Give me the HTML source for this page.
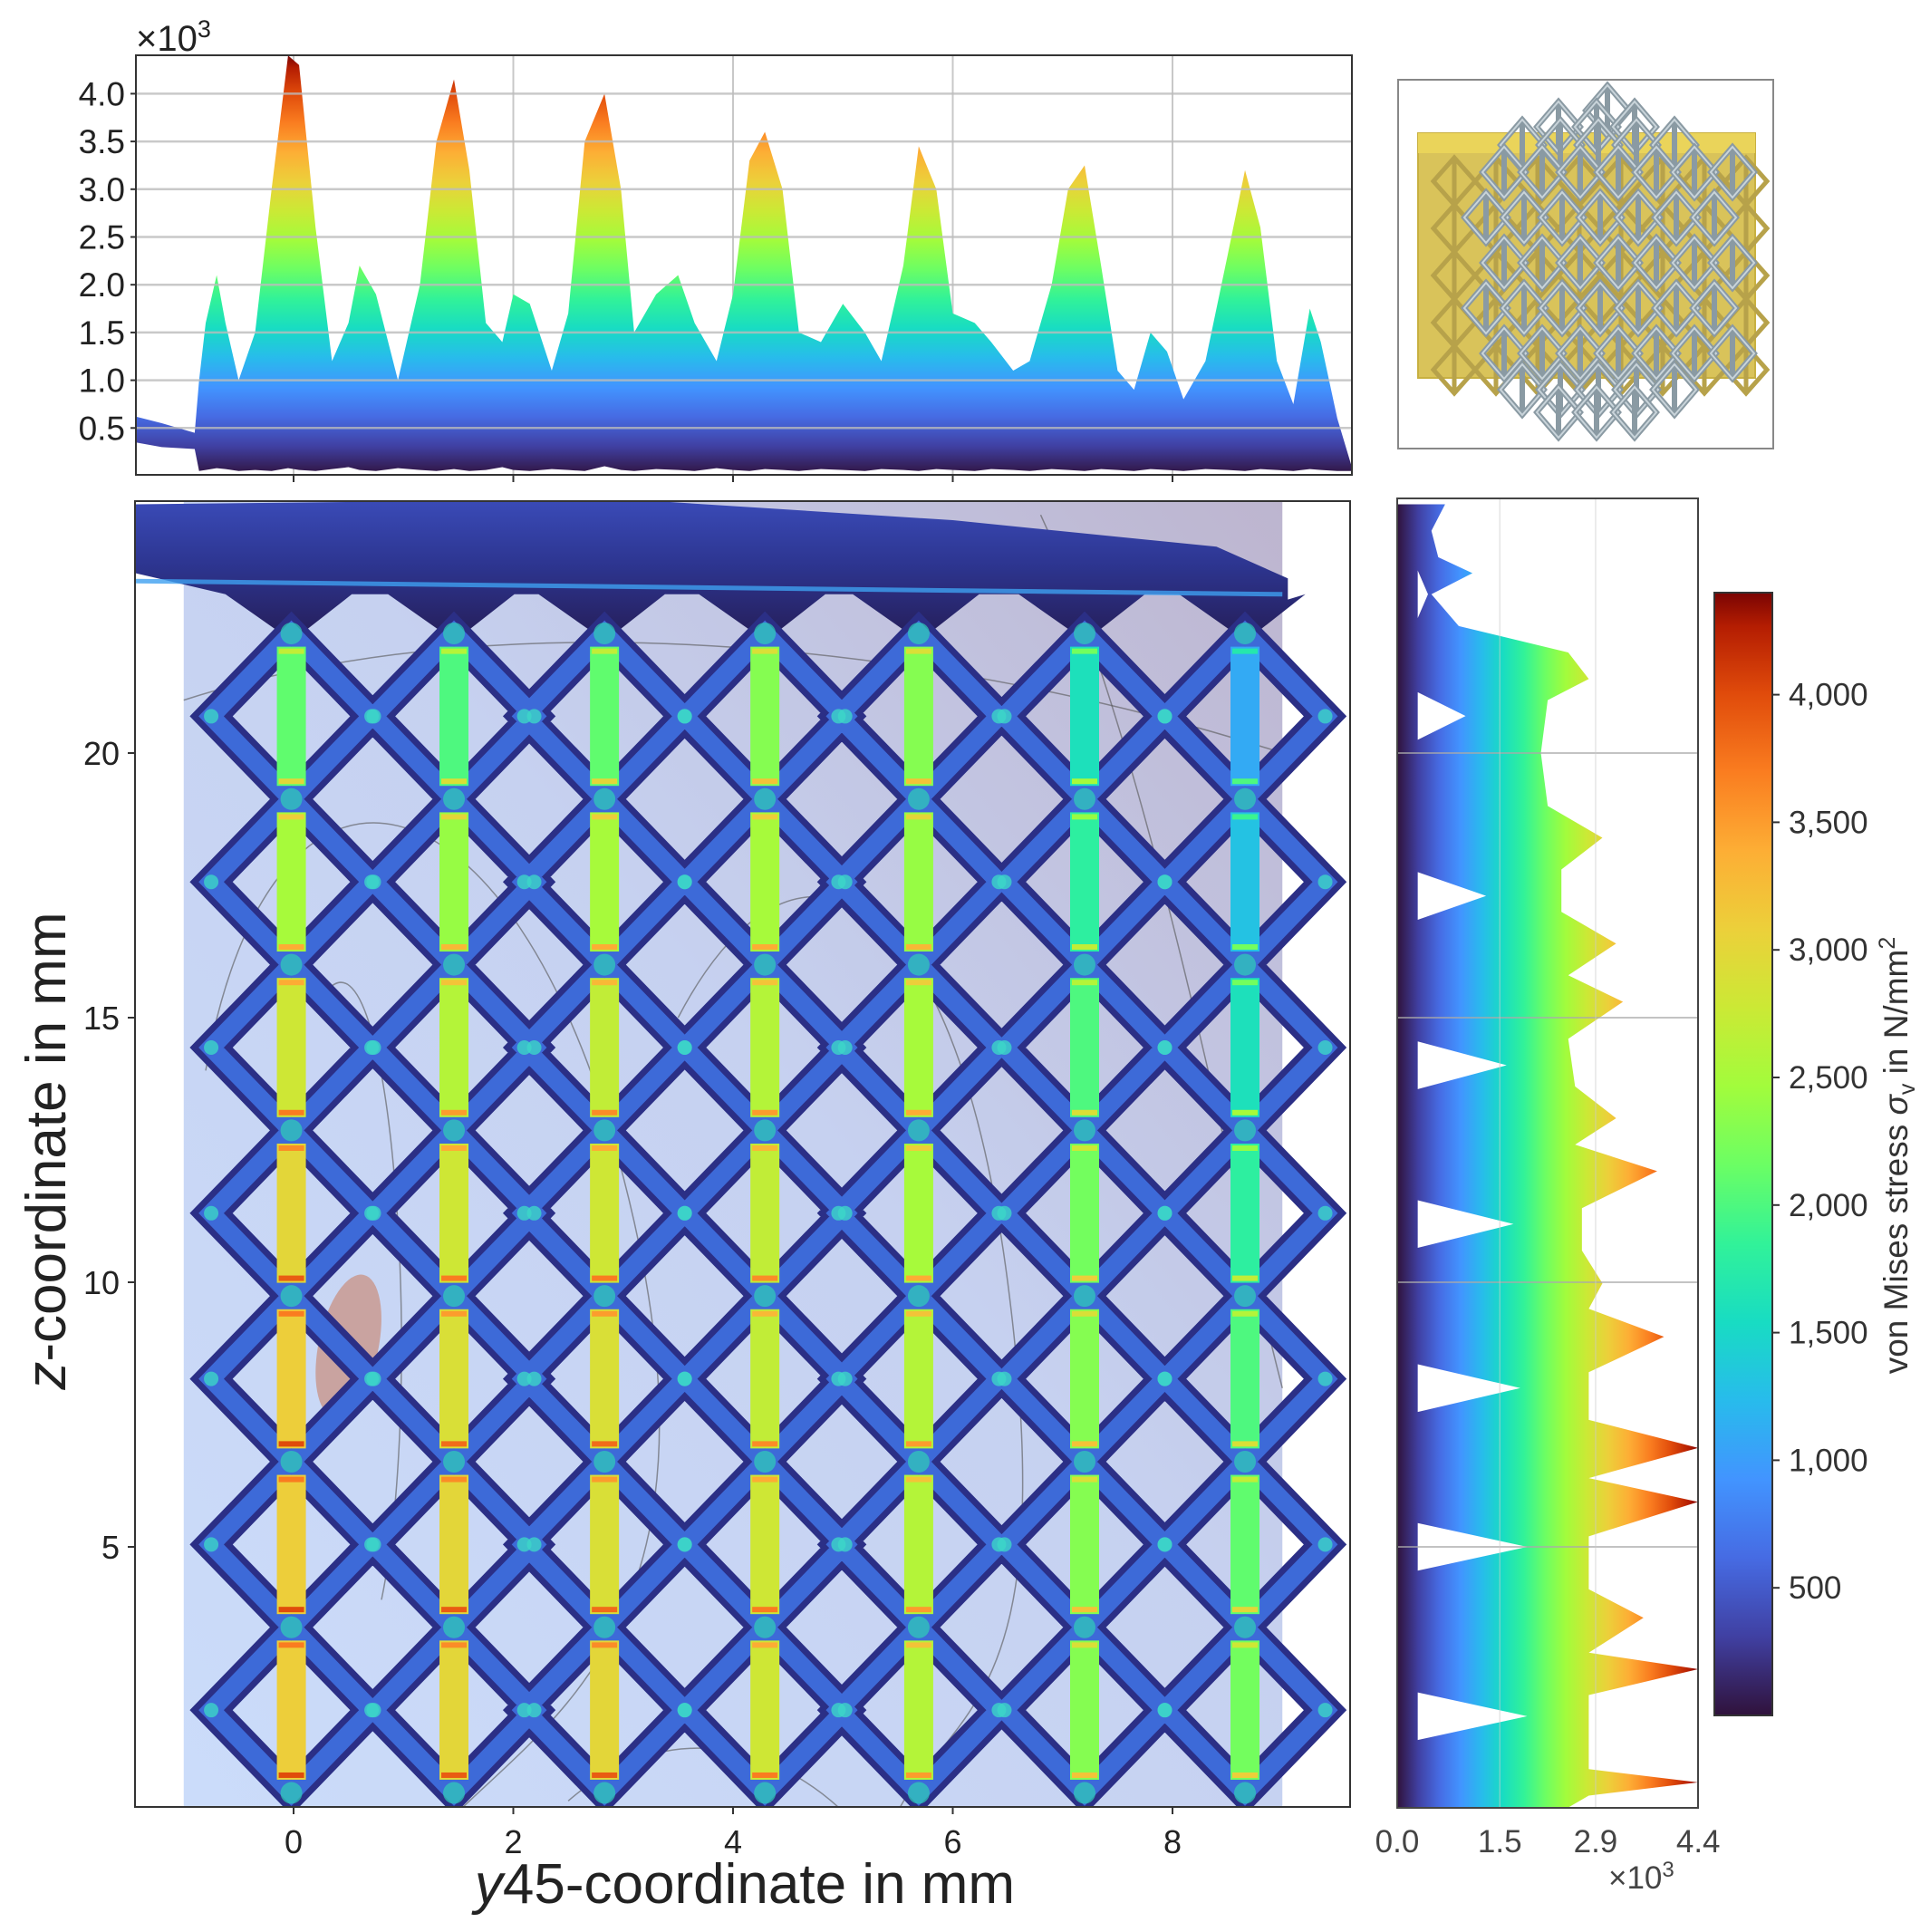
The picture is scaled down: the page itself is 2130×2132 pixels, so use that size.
<!DOCTYPE html>
<html><head><meta charset="utf-8"><style>
html,body{margin:0;padding:0;background:#fff}
svg{display:block;font-family:"Liberation Sans",sans-serif}
</style></head><body>
<svg id="c" width="2130" height="2132" viewBox="0 0 2130 2132" xmlns="http://www.w3.org/2000/svg">
<defs>
<linearGradient id="bgGrad" x1="0" y1="1" x2="1" y2="0">
<stop offset="0" stop-color="#cbdcfa"/><stop offset="0.55" stop-color="#c6d1f0"/><stop offset="1" stop-color="#bdb5cf"/>
</linearGradient>
<linearGradient id="capGrad" x1="0" y1="0" x2="0" y2="1">
<stop offset="0" stop-color="#3a4bb8"/><stop offset="0.5" stop-color="#2d3590"/><stop offset="1" stop-color="#26205e"/>
</linearGradient>
<clipPath id="mainClip"><rect x="149" y="553" width="1341" height="1441"/></clipPath>
<clipPath id="topClip"><rect x="150" y="61" width="1342" height="463"/></clipPath>
<clipPath id="rightClip"><rect x="1542" y="550" width="332" height="1445"/></clipPath>
</defs>
</svg>
<script>
// ---------- data ----------
const topX = [-1.44,-1.2,-0.9,-0.86,-0.8,-0.7,-0.62,-0.5,-0.35,-0.2,-0.05,0.05,0.2,0.35,0.5,0.6,0.75,0.95,1.15,1.3,1.46,1.6,1.75,1.9,2.0,2.15,2.35,2.5,2.65,2.83,2.98,3.1,3.3,3.5,3.65,3.85,4.0,4.15,4.29,4.45,4.6,4.8,5.0,5.2,5.35,5.55,5.69,5.85,6.0,6.2,6.35,6.55,6.7,6.9,7.05,7.2,7.35,7.5,7.65,7.8,7.95,8.1,8.3,8.5,8.66,8.8,8.95,9.1,9.25,9.35,9.5,9.63];
const topV = [0.62,0.55,0.45,1.0,1.6,2.1,1.6,1.0,1.5,3.0,4.4,4.3,2.6,1.2,1.6,2.2,1.9,1.0,2.0,3.5,4.15,3.2,1.6,1.4,1.9,1.8,1.1,1.7,3.5,4.0,3.0,1.5,1.9,2.1,1.6,1.2,1.9,3.3,3.6,3.0,1.5,1.4,1.8,1.5,1.2,2.2,3.45,3.0,1.7,1.6,1.4,1.1,1.2,2.0,3.0,3.25,2.2,1.1,0.9,1.5,1.3,0.8,1.2,2.3,3.2,2.6,1.2,0.75,1.75,1.4,0.6,0.1];
const topBase = [0.35,0.3,0.28,0.05,0.06,0.08,0.07,0.05,0.06,0.05,0.08,0.06,0.05,0.07,0.09,0.06,0.05,0.08,0.06,0.05,0.07,0.05,0.06,0.09,0.06,0.05,0.07,0.06,0.05,0.1,0.06,0.05,0.07,0.06,0.05,0.08,0.06,0.05,0.07,0.06,0.05,0.07,0.06,0.05,0.07,0.06,0.05,0.07,0.06,0.05,0.07,0.06,0.05,0.07,0.06,0.05,0.07,0.06,0.05,0.07,0.06,0.05,0.07,0.06,0.05,0.07,0.06,0.05,0.07,0.06,0.05,0.05];
const topYTicks = [0.5,1.0,1.5,2.0,2.5,3.0,3.5,4.0];
const xTicks = [0,2,4,6,8];
const zTicks = [5,10,15,20];
const barX = [-0.02,1.46,2.83,4.29,5.69,7.2,8.66];
const barStress = [
 [3.1,3.1,3.1,3.0,2.8,2.5,2.1],
 [3.0,3.0,2.9,2.8,2.6,2.4,2.0],
 [3.0,2.9,2.9,2.8,2.7,2.5,2.1],
 [2.8,2.8,2.7,2.7,2.6,2.5,2.3],
 [2.6,2.6,2.6,2.5,2.5,2.4,2.3],
 [2.3,2.3,2.3,2.2,2.0,1.8,1.6],
 [2.2,2.1,2.0,1.8,1.6,1.3,1.1]];
const nodeZ = [0.35,3.48,6.61,9.74,12.87,16.0,19.13,22.26];
const rightZ = [0.0,0.3,0.55,0.8,1.4,2.2,2.69,3.0,3.66,4.2,5.2,5.85,6.3,6.87,7.4,8.3,8.97,9.5,9.98,10.6,11.4,12.1,12.6,13.1,13.7,14.6,15.3,15.8,16.4,17.0,17.8,18.4,19.0,20.0,21.0,21.4,21.9,22.4,23.0,23.4,23.7,24.2,24.7];
const rightS = [2.4,2.8,4.4,2.8,2.8,2.8,4.4,2.8,3.6,2.8,2.8,4.4,2.8,4.4,2.8,2.8,3.9,2.8,3.0,2.7,2.7,3.8,2.6,3.2,2.6,2.5,3.3,2.5,3.2,2.4,2.4,3.0,2.2,2.1,2.2,2.8,2.5,0.9,0.5,1.1,0.6,0.5,0.7];
const notchZ = [1.8,5.0,8.0,11.1,14.1,17.3,20.7,23.0];
const notchS = [1.9,1.9,1.8,1.7,1.6,1.3,1.0,0.45];
const rightTicks = [0.0,1.5,2.9,4.4];
const cbTicks = [500,1000,1500,2000,2500,3000,3500,4000];
const cbLabels = ["500","1,000","1,500","2,000","2,500","3,000","3,500","4,000"];

// ---------- helpers ----------
const NS="http://www.w3.org/2000/svg";
const svg=document.getElementById('c');
function mk(tag,attrs,parent){const e=document.createElementNS(NS,tag);for(const k in attrs)e.setAttribute(k,attrs[k]);(parent||svg).appendChild(e);return e;}
const turboStops=[[0,"#30123b"],[0.07,"#4040a2"],[0.14,"#466be3"],[0.21,"#4294ff"],[0.28,"#28bbec"],[0.35,"#18dcc3"],[0.42,"#31f299"],[0.49,"#6bfe64"],[0.56,"#a2fc3c"],[0.63,"#cbe935"],[0.70,"#ecd03a"],[0.77,"#fdae35"],[0.84,"#fa7d20"],[0.91,"#e04b0b"],[0.97,"#b41d02"],[1,"#7a0403"]];
function hex(h){return [parseInt(h.slice(1,3),16),parseInt(h.slice(3,5),16),parseInt(h.slice(5,7),16)];}
function turbo(t){t=Math.max(0,Math.min(1,t));for(let i=1;i<turboStops.length;i++){if(t<=turboStops[i][0]){const a=turboStops[i-1],b=turboStops[i];const f=(t-a[0])/(b[0]-a[0]);const ca=hex(a[1]),cb=hex(b[1]);return `rgb(${ca.map((v,j)=>Math.round(v+(cb[j]-v)*f)).join(',')})`;}}return "#7a0403";}
const defs=svg.querySelector('defs');
function grad(id,x1,y1,x2,y2){const g=mk('linearGradient',{id:id,gradientUnits:'userSpaceOnUse',x1:x1,y1:y1,x2:x2,y2:y2},defs);turboStops.forEach(s=>mk('stop',{offset:s[0],'stop-color':s[1]},g));}

// axes
const X=mm=>324+mm*121.25;
const Z=z=>1999-z*58.4;
const Yt=v=>525-v*105.4;
const Xr=s=>1542+s*75.5;
const Yc=v=>1893-v*0.2816;
grad('tg',0,Yt(0),0,Yt(4.4));
grad('rg',Xr(0),0,Xr(4.4),0);
grad('cg',0,Yc(0),0,Yc(4400));

// ---------- top plot ----------
const topG=mk('g',{'clip-path':'url(#topClip)'});


xTicks.forEach(t=>{const l=mk('line',{x1:X(t),x2:X(t),y1:61,y2:524,stroke:'#c8c8c8','stroke-width':2},topG);
});
let pts=topX.map((x,i)=>`${X(x)},${Yt(topV[i])}`);
for(let i=topX.length-1;i>=0;i--)pts.push(`${X(topX[i])},${Yt(topBase[i])}`);
const tp=mk('polygon',{points:pts.join(' '),fill:'url(#tg)'},topG);

topYTicks.forEach(v=>{const l=mk('line',{x1:150,x2:1492,y1:Yt(v),y2:Yt(v),stroke:'#bbbbbb','stroke-width':2.5,'stroke-opacity':0.8},topG);
});
const tf=mk('rect',{x:150,y:61,width:1342,height:463,fill:'none',stroke:'#333','stroke-width':2});

topYTicks.forEach(v=>{const t=mk('text',{x:138,y:Yt(v)+13,'text-anchor':'end','font-size':37,fill:'#222'});t.textContent=v.toFixed(1);

mk('line',{x1:144,x2:150,y1:Yt(v),y2:Yt(v),stroke:'#333','stroke-width':2});});
xTicks.forEach(t=>mk('line',{x1:X(t),x2:X(t),y1:524,y2:532,stroke:'#333','stroke-width':2}));
const tm=mk('text',{x:150,y:56,'font-size':40,fill:'#222'});tm.innerHTML='×10<tspan dy="-15" font-size="27">3</tspan>';


// ---------- inset ----------
const ins=mk('g',{});

mk('rect',{x:1543,y:88,width:414,height:407,fill:'#fff',stroke:'#888','stroke-width':2},ins);
mk('rect',{x:1565,y:147,width:372,height:270,fill:'#d9c35a',stroke:'#c8b040','stroke-width':2},ins);
mk('rect',{x:1565,y:147,width:372,height:22,fill:'#ead45a'},ins);
for(let r=0;r<5;r++)for(let c=0;c<8;c++){const cx=1605+c*46,cy=200+r*52;
mk('path',{d:`M${cx},${cy-26}L${cx+23},${cy}L${cx},${cy+26}L${cx-23},${cy}Z M${cx},${cy-26}V${cy+26}`,fill:'none',stroke:'#b7a24a','stroke-width':5},ins);}
const rows=[[1774,112,1],[1720,130,3],[1680,150,5],[1640,180,7],[1640,230,7],[1640,280,7],[1640,330,7],[1640,380,7],[1680,420,5],[1720,445,3]];
rows.forEach(([x0,y0,n],ri)=>{for(let c=0;c<n;c++){const cx=x0+c*42+ (ri>2&&ri<8?(ri%2)*20:0),cy=y0+10;
mk('path',{d:`M${cx},${cy-28}L${cx+24},${cy}L${cx},${cy+28}L${cx-24},${cy}Z M${cx},${cy-28}V${cy+28}`,fill:'none',stroke:'#8a9aa3','stroke-width':6},ins);
mk('path',{d:`M${cx},${cy-28}L${cx+24},${cy}L${cx},${cy+28}L${cx-24},${cy}Z`,fill:'none',stroke:'#c9d4da','stroke-width':2},ins);}});

// ---------- main plot ----------
const mainG=mk('g',{'clip-path':'url(#mainClip)'});

const bg=mk('rect',{x:X(-1.0),y:553,width:X(9.0)-X(-1.0),height:1441,fill:'url(#bgGrad)'},mainG);

[[`M${X(-0.8)},${Z(14)} C${X(-0.2)},${Z(21)} ${X(2)},${Z(20)} ${X(3)},${Z(12)} S${X(2.5)},${Z(2)} ${X(1.5)},${Z(0)}`],
 [`M${X(0.3)},${Z(15.5)} C${X(0.9)},${Z(17)} ${X(1.2)},${Z(8)} ${X(0.8)},${Z(4)}`],
 [`M${X(3.5)},${Z(15)} C${X(4.5)},${Z(19)} ${X(6)},${Z(18)} ${X(6.5)},${Z(10)} S${X(6)},${Z(2)} ${X(5.5)},${Z(0)}`],
 [`M${X(6.8)},${Z(24.5)} C${X(7.8)},${Z(20)} ${X(8.5)},${Z(12)} ${X(9.0)},${Z(8)}`],
 [`M${X(-1)},${Z(21)} C${X(2)},${Z(23)} ${X(6)},${Z(22)} ${X(9)},${Z(20)}`],
 [`M${X(2.5)},${Z(0.2)} C${X(3.5)},${Z(2)} ${X(4.5)},${Z(1)} ${X(5)},${Z(0)}`]].forEach(p=>{
 const c=mk('path',{d:p[0],fill:'none',stroke:'#555','stroke-width':1.5,'stroke-opacity':0.6},mainG);
 });
const el=mk('ellipse',{cx:X(0.5),cy:Z(8.8),rx:33,ry:80,fill:'#c9a3a0',transform:`rotate(12 ${X(0.5)} ${Z(8.8)})`},mainG);

// top cap
let cap=[`${X(-1.44)},${Z(24.7)}`,`${X(3)},${Z(24.8)}`,`${X(6)},${Z(24.4)}`,`${X(8.4)},${Z(23.9)}`,`${X(9.05)},${Z(23.3)}`,`${X(9.05)},${Z(22.9)}`];
for(let i=barX.length-1;i>=0;i--){cap.push(`${X(barX[i]+0.55)},${Z(23.0)}`);cap.push(`${X(barX[i]+0.12)},${Z(22.3)}`);cap.push(`${X(barX[i]-0.12)},${Z(22.3)}`);cap.push(`${X(barX[i]-0.6)},${Z(23.0)}`);}
cap.push(`${X(-1.44)},${Z(23.4)}`);
const cp=mk('polygon',{points:cap.join(' '),fill:'url(#capGrad)'},mainG);

mk('line',{x1:X(-1.44),x2:X(9.0),y1:Z(23.25),y2:Z(23.0),stroke:'#3fa0f0','stroke-width':5,'stroke-opacity':0.8},mainG);
// struts
const hw=0.73,hz=1.565;
const strutPaths=[];
barX.forEach((bx,i)=>{for(let k=0;k<nodeZ.length-1;k++){const z0=nodeZ[k],zm=z0+hz,z1=nodeZ[k+1];
 strutPaths.push(`M${X(bx)},${Z(z0)}L${X(bx-hw)},${Z(zm)}L${X(bx)},${Z(z1)}L${X(bx+hw)},${Z(zm)}Z`);}});
const sd=strutPaths.join(' ');
const s1=mk('path',{d:sd,fill:'none',stroke:'#2b2f86','stroke-width':34,'stroke-linejoin':'miter'},mainG);

mk('path',{d:sd,fill:'none',stroke:'#3d6ad8','stroke-width':20,'stroke-linejoin':'miter'},mainG);
barX.forEach(bx=>{for(let k=0;k<nodeZ.length-1;k++){const zm=nodeZ[k]+hz;[bx-hw,bx+hw].forEach(x=>mk('circle',{cx:X(x),cy:Z(zm),r:8,fill:'#3cd6c8','fill-opacity':0.8},mainG));}
 nodeZ.forEach(z=>mk('circle',{cx:X(bx),cy:Z(z),r:12,fill:'#2fd0b8','fill-opacity':0.7},mainG));});
barX.forEach((bx,i)=>{barStress[i].forEach((s,k)=>{const za=nodeZ[k]+0.25,zb=nodeZ[k+1]-0.25;
 const r=mk('rect',{x:X(bx)-16,y:Z(zb),width:32,height:Z(za)-Z(zb),fill:turbo(s/4.4)},mainG);
 
 mk('rect',{x:X(bx)-14,y:Z(za)-8,width:28,height:6,fill:turbo((s+0.9)/4.4)},mainG);
 mk('rect',{x:X(bx)-14,y:Z(zb)+2,width:28,height:6,fill:turbo((s+0.6)/4.4)},mainG);});});
const mf=mk('rect',{x:149,y:553,width:1341,height:1441,fill:'none',stroke:'#333','stroke-width':2});

xTicks.forEach(t=>{mk('line',{x1:X(t),x2:X(t),y1:1994,y2:2002,stroke:'#333','stroke-width':2});
 const tx=mk('text',{x:X(t),y:2045,'text-anchor':'middle','font-size':36,fill:'#222'});tx.textContent=t;
 });
zTicks.forEach(t=>{mk('line',{x1:141,x2:149,y1:Z(t),y2:Z(t),stroke:'#333','stroke-width':2});
 const tx=mk('text',{x:132,y:Z(t)+13,'text-anchor':'end','font-size':36,fill:'#222'});tx.textContent=t;
 });
const xl=mk('text',{x:822,y:2100,'text-anchor':'middle','font-size':62,fill:'#222'});xl.innerHTML='<tspan font-style="italic">y</tspan>45-coordinate in mm';

const zl=mk('text',{x:72,y:1270,'text-anchor':'middle','font-size':62,fill:'#222',transform:'rotate(-90 72 1270)'});zl.innerHTML='<tspan font-style="italic">z</tspan>-coordinate in mm';


// ---------- right plot ----------
const rG=mk('g',{'clip-path':'url(#rightClip)'});

let rp=[`${Xr(0)},${Z(rightZ[0])}`].concat(rightZ.map((z,i)=>`${Xr(rightS[i])},${Z(z)}`)).concat([`${Xr(0)},${Z(rightZ[rightZ.length-1])}`]);
const rpoly=mk('polygon',{points:rp.join(' '),fill:'url(#rg)'},rG);

notchZ.forEach((z,i)=>{const n=mk('polygon',{points:`${Xr(0.3)},${Z(z-0.45)} ${Xr(notchS[i])},${Z(z)} ${Xr(0.3)},${Z(z+0.45)}`,fill:'#fff'},rG);
 });
[5,10,15,20].forEach(t=>mk('line',{x1:1542,x2:1874,y1:Z(t),y2:Z(t),stroke:'#aaa','stroke-width':2,'stroke-opacity':0.7},rG));
[1.5,2.9].forEach(t=>mk('line',{x1:Xr(t),x2:Xr(t),y1:550,y2:1995,stroke:'#ccc','stroke-width':1.5,'stroke-opacity':0.5},rG));
const rf=mk('rect',{x:1542,y:550,width:332,height:1445,fill:'none',stroke:'#444','stroke-width':2});

rightTicks.forEach(t=>{const tx=mk('text',{x:Xr(t),y:2044,'text-anchor':'middle','font-size':35,fill:'#444'});tx.textContent=t.toFixed(1);
 });
const rm=mk('text',{x:1775,y:2084,'font-size':35,fill:'#444'});rm.innerHTML='×10<tspan dy="-13" font-size="24">3</tspan>';


// ---------- colorbar ----------
const cb=mk('rect',{x:1892,y:654,width:64,height:1239,fill:'url(#cg)',stroke:'#333','stroke-width':2});

cbTicks.forEach((v,i)=>{mk('line',{x1:1956,x2:1964,y1:Yc(v),y2:Yc(v),stroke:'#333','stroke-width':2});
 const tx=mk('text',{x:1974,y:Yc(v)+12,'font-size':35,fill:'#333'});tx.textContent=cbLabels[i];
 });
const cl=mk('text',{x:2105,y:1275,'text-anchor':'middle','font-size':37,fill:'#333',transform:'rotate(-90 2105 1275)'});
cl.innerHTML='von Mises stress <tspan font-style="italic">σ</tspan><tspan dy="8" font-size="25">v</tspan><tspan dy="-8"> in N/mm</tspan><tspan dy="-14" font-size="25">2</tspan>';

</script>
</body></html>
